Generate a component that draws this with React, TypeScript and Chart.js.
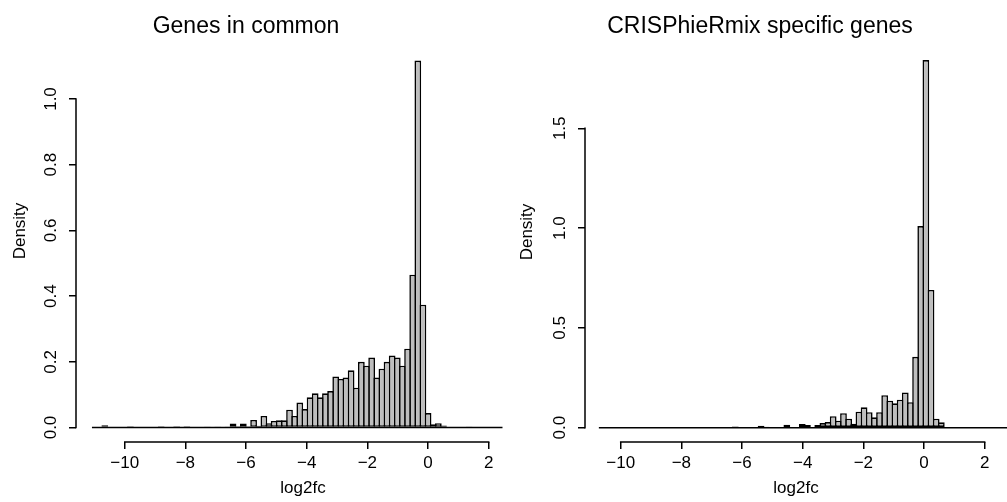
import React, { useEffect, useRef } from "react";
import { Chart, registerables } from "chart.js";

Chart.register(...registerables);

const FONT_FAMILY = '"Liberation Sans", Arial, Helvetica, sans-serif';

// ---------------- data ----------------
const LEFT_TITLE = "Genes in common";
const RIGHT_TITLE = "CRISPhieRmix specific genes";
const X_LABEL = "log2fc";
const Y_LABEL = "Density";

const X_TICKS = [-10, -8, -6, -4, -2, 0, 2];
const LEFT_Y_TICKS = [0, 0.2, 0.4, 0.6, 0.8, 1.0];
const RIGHT_Y_TICKS = [0, 0.5, 1.0, 1.5];

// histogram breaks: first break and bin width (80 bins each)
const LEFT_BREAK_START = -11.08;
const LEFT_BIN_WIDTH = 0.1692;
const LEFT_DENSITY = [
  0, 0, 0.007, 0, 0, 0, 0, 0.004, 0, 0,
  0, 0, 0, 0.004, 0, 0, 0.004, 0, 0.004, 0,
  0, 0, 0.003, 0, 0.003, 0, 0.003, 0.012, 0.004, 0.012,
  0.004, 0.023, 0.005, 0.035, 0.013, 0.02, 0.022, 0.022, 0.054, 0.035,
  0.076, 0.056, 0.092, 0.104, 0.092, 0.104, 0.111, 0.155, 0.148, 0.152,
  0.174, 0.121, 0.2, 0.188, 0.213, 0.152, 0.179, 0.2, 0.219, 0.213,
  0.188, 0.24, 0.465, 1.117, 0.374, 0.044, 0.01, 0.013, 0.006, 0,
  0, 0, 0, 0.003, 0, 0, 0, 0, 0, 0,
];

const RIGHT_BREAK_START = -10.72;
const RIGHT_BIN_WIDTH = 0.1698;
const RIGHT_DENSITY = [
  0, 0, 0, 0, 0, 0, 0, 0, 0, 0,
  0, 0, 0, 0, 0, 0, 0, 0, 0, 0,
  0, 0, 0, 0, 0, 0, 0.006, 0, 0, 0,
  0, 0.01, 0.005, 0.004, 0, 0, 0.015, 0.003, 0.003, 0.018,
  0.013, 0.003, 0.013, 0.023, 0.028, 0.058, 0.035, 0.073, 0.045, 0.02,
  0.08, 0.102, 0.078, 0.052, 0.078, 0.163, 0.135, 0.122, 0.14, 0.177,
  0.128, 0.355, 1.01, 1.842, 0.69, 0.045, 0.027, 0, 0, 0,
  0, 0, 0, 0, 0, 0, 0, 0, 0, 0,
];

// ---------------- layout ----------------
type PanelSpec = {
  title: string;
  breakStart: number;
  binWidth: number;
  density: number[];
  yTicks: number[];
  left: number;
  width: number;
  height: number;
  topPad: number;
  yAxisWidth: number;
  xMin: number;
  xMax: number;
  yMin: number;
  yMax: number;
  yTitlePad: number;
  titleX: number;
  titleY: number;
};

const LEFT_SPEC: PanelSpec = {
  title: LEFT_TITLE,
  breakStart: LEFT_BREAK_START,
  binWidth: LEFT_BIN_WIDTH,
  density: LEFT_DENSITY,
  yTicks: LEFT_Y_TICKS,
  left: 0,
  width: 530,
  height: 502,
  topPad: 20,
  yAxisWidth: 76,
  xMin: -11.606,
  xMax: 3.363,
  yMin: -0.0441,
  yMax: 1.2405,
  yTitlePad: 9.8,
  titleX: 246,
  titleY: 27,
};

const RIGHT_SPEC: PanelSpec = {
  title: RIGHT_TITLE,
  breakStart: RIGHT_BREAK_START,
  binWidth: RIGHT_BIN_WIDTH,
  density: RIGHT_DENSITY,
  yTicks: RIGHT_Y_TICKS,
  left: 500,
  width: 507,
  height: 502,
  topPad: 22,
  yAxisWidth: 85,
  xMin: -11.177,
  xMax: 2.737,
  yMin: -0.0716,
  yMax: 2.0326,
  yTitlePad: 16.8,
  titleX: 260,
  titleY: 27,
};

const LINE_W = 1.5;
const BAR_BORDER = 1.6;
const TICK_SIZE = 17;
const LABEL_SIZE = 17;
const TITLE_SIZE = 23;

const rAxesPlugin = {
  id: "rAxes",
  afterDraw(chart: any, _args: any, opts: any) {
    const { ctx, chartArea, scales } = chart;
    const xs = scales.x;
    const ys = scales.y;
    const xt = xs.ticks;
    const yt = ys.ticks;
    const lw = opts.lineWidth;
    ctx.save();
    ctx.strokeStyle = "#000";
    ctx.lineWidth = lw;
    ctx.beginPath();
    ctx.moveTo(xs.getPixelForValue(xt[0].value) - lw / 2, chartArea.bottom);
    ctx.lineTo(xs.getPixelForValue(xt[xt.length - 1].value) + lw / 2, chartArea.bottom);
    ctx.moveTo(chartArea.left, ys.getPixelForValue(yt[0].value) + lw / 2);
    ctx.lineTo(chartArea.left, ys.getPixelForValue(yt[yt.length - 1].value) - lw / 2);
    ctx.stroke();
    ctx.fillStyle = "#000";
    ctx.font = `${opts.titleSize}px ${FONT_FAMILY}`;
    ctx.textAlign = "center";
    ctx.textBaseline = "middle";
    ctx.fillText(opts.title, opts.titleX, opts.titleY);
    ctx.restore();
  },
};

const fmtX = (v: number) => (v < 0 ? "\u2212" + Math.abs(v) : String(v));

function HistPanel({ spec }: { spec: PanelSpec }) {
  const ref = useRef<HTMLCanvasElement>(null);

  useEffect(() => {
    const canvas = ref.current;
    if (!canvas) return;
    const s = spec;
    const barData = s.density.map((d, i) => ({
      x: s.breakStart + (i + 0.5) * s.binWidth,
      y: d,
    }));
    const baseline = [
      { x: s.breakStart, y: 0 },
      { x: s.breakStart + s.density.length * s.binWidth, y: 0 },
    ];
    const tickFont = { family: FONT_FAMILY, size: TICK_SIZE };
    const labelFont = { family: FONT_FAMILY, size: LABEL_SIZE };
    const lh = LABEL_SIZE * 1.2;
    const th = TICK_SIZE * 1.2;

    const chart = new Chart(canvas, {
      type: "bar",
      data: {
        datasets: [
          {
            type: "bar",
            data: barData as any,
            backgroundColor: "#bebebe",
            borderColor: "#000",
            borderWidth: BAR_BORDER,
            borderSkipped: false,
            barPercentage: 1.31,
            categoryPercentage: 1,
            order: 0,
          } as any,
          {
            type: "line",
            data: baseline as any,
            borderColor: "#000",
            borderWidth: BAR_BORDER,
            pointRadius: 0,
            order: 1,
          } as any,
        ],
      },
      options: {
        responsive: false,
        animation: false,
        layout: { padding: { top: s.topPad, left: 0, right: 0, bottom: 0 } },
        plugins: {
          legend: { display: false },
          tooltip: { enabled: false },
          title: { display: false },
          rAxes: {
            lineWidth: LINE_W,
            title: s.title,
            titleX: s.titleX,
            titleY: s.titleY,
            titleSize: TITLE_SIZE,
          },
        } as any,
        scales: {
          x: {
            type: "linear",
            min: s.xMin,
            max: s.xMax,
            offset: false,
            grid: {
              offset: false,
              drawOnChartArea: false,
              drawTicks: true,
              tickLength: 7,
              color: "#000",
              lineWidth: LINE_W,
            },
            border: { display: false },
            ticks: {
              color: "#000",
              font: tickFont,
              padding: 21 - 7 - th / 2,
              autoSkip: false,
              maxRotation: 0,
              minRotation: 0,
              callback: (v: any) => fmtX(Number(v)),
            },
            afterBuildTicks: (axis: any) => {
              axis.ticks = X_TICKS.map((v) => ({ value: v }));
            },
            afterFit: (axis: any) => {
              axis.height = 60;
            },
            title: {
              display: true,
              text: X_LABEL,
              color: "#000",
              font: labelFont,
              padding: { top: 0, bottom: 14 - lh / 2 },
            },
          } as any,
          y: {
            type: "linear",
            min: s.yMin,
            max: s.yMax,
            grid: {
              drawOnChartArea: false,
              drawTicks: true,
              tickLength: 7,
              color: "#000",
              lineWidth: LINE_W,
            },
            border: { display: false },
            ticks: {
              color: "#000",
              font: tickFont,
              padding: 5.5,
              autoSkip: false,
              minRotation: 90,
              maxRotation: 90,
              crossAlign: "center",
              callback: (v: any) => Number(v).toFixed(1),
            },
            afterBuildTicks: (axis: any) => {
              axis.ticks = s.yTicks.map((v) => ({ value: v }));
            },
            afterFit: (axis: any) => {
              axis.width = s.yAxisWidth;
            },
            title: {
              display: true,
              text: Y_LABEL,
              color: "#000",
              font: labelFont,
              padding: { top: s.yTitlePad, bottom: 0 },
            },
          } as any,
        },
      },
      plugins: [rAxesPlugin as any],
    });
    return () => chart.destroy();
  }, [spec]);

  return (
    <canvas
      ref={ref}
      width={spec.width}
      height={spec.height}
      style={{
        position: "absolute",
        left: spec.left,
        top: 0,
        width: spec.width,
        height: spec.height,
      }}
    />
  );
}

export default function App() {
  return (
    <div
      style={{
        position: "fixed",
        left: 0,
        top: 0,
        width: 1007,
        height: 502,
        background: "#fff",
        overflow: "hidden",
      }}
    >
      <HistPanel spec={LEFT_SPEC} />
      <HistPanel spec={RIGHT_SPEC} />
    </div>
  );
}
